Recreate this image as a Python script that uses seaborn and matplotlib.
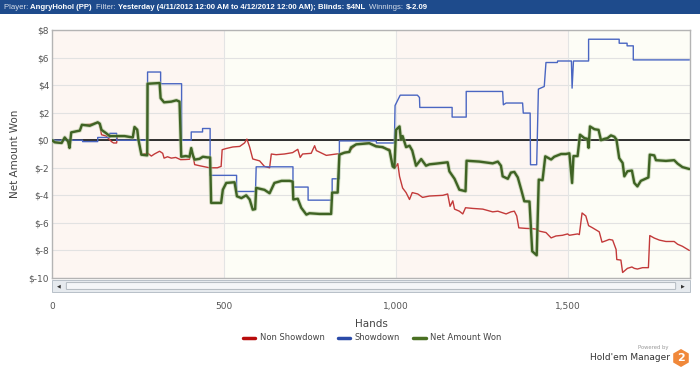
import numpy as np
import pandas as pd
import matplotlib
matplotlib.use("Agg")
from matplotlib import pyplot as plt
from matplotlib.patches import Rectangle, FancyBboxPatch, RegularPolygon
from matplotlib.lines import Line2D
import seaborn as sns

# data: hands played vs cumulative winnings ($)
showdown_hands = [0, 89, 89, 133, 133, 168, 168, 188, 188, 278, 278, 316, 316, 377, 377, 405, 405,
                  438, 438, 460, 460, 537, 537, 592, 594, 701, 701, 745, 745, 815, 815, 836, 836,
                  943, 944, 996, 998, 1013, 1063, 1069, 1070, 1164, 1164, 1205, 1205, 1311, 1313,
                  1321, 1369, 1371, 1391, 1392, 1410, 1415, 1432, 1437, 1470, 1471, 1511, 1513,
                  1517, 1561, 1561, 1650, 1650, 1673, 1673, 1691, 1691, 1854]
showdown_won = [0, 0, -0.1, -0.1, 0.2, 0.2, 0.5, 0.5, 0, 0, 4.95, 4.95, 4.1, 4.1, 0, 0, 0.6,
                0.6, 0.85, 0.85, -2.55, -2.55, -3.72, -3.72, -1.93, -1.93, -3.4, -3.4, -4.35, -4.35,
                -2.8, -2.8, -0.05, -0.05, -0.2, -0.2, 2.52, 3.27, 3.27, 3.1, 2.38, 2.38, 1.68, 1.68,
                3.54, 3.54, 2.57, 2.7, 2.7, 1.97, 1.97, -1.78, -1.78, 3.71, 3.9, 5.64, 5.64, 5.75,
                5.75, 3.78, 5.75, 5.75, 7.33, 7.33, 7.04, 7.04, 6.85, 6.85, 5.83, 5.83]

nonsd_hands = [0, 8, 28, 37, 47, 51, 56, 81, 87, 110, 133, 139, 144, 158, 173, 179, 188, 190,
               211, 235, 240, 248, 251, 260, 278, 289, 298, 313, 322, 326, 336, 347, 360, 374,
               389, 400, 405, 410, 415, 429, 458, 481, 492, 495, 507, 526, 546, 560, 567, 575,
               584, 604, 618, 633, 638, 652, 676, 700, 715, 722, 729, 754, 764, 769, 798, 827,
               846, 865, 885, 923, 943, 962, 982, 991, 998, 1006, 1011, 1020, 1030, 1040, 1048,
               1064, 1078, 1098, 1137, 1151, 1158, 1166, 1171, 1185, 1195, 1203, 1224, 1253,
               1282, 1297, 1321, 1335, 1345, 1352, 1358, 1379, 1398, 1408, 1418, 1437, 1452,
               1466, 1485, 1500, 1505, 1529, 1534, 1542, 1553, 1561, 1572, 1582, 1592, 1600,
               1611, 1621, 1631, 1641, 1643, 1655, 1660, 1674, 1687, 1694, 1703, 1718, 1735,
               1739, 1752, 1767, 1786, 1810, 1820, 1834, 1854]
nonsd_won = [0, -0.15, -0.2, 0.2, -0.1, -0.56, 0.57, 0.7, 1.12, 1.15, 1.3, 1.1, 0.4, 0.3, -0.1,
             -0.2, -0.2, 0.3, 0.3, 0.2, 0.96, 0.76, 0.1, -1.05, -0.93, -1.15, -1.0, -0.8, -0.95,
             -1.3, -1.2, -1.3, -1.25, -1.41, -1.4, -1.38, -0.64, -1.1, -1.77, -1.85, -2.0, -2.0,
             -1.9, -0.69, -0.6, -0.49, -0.45, -0.2, 0.08, -0.5, -1.36, -1.5, -1.9, -2.0, -1.0,
             -1.05, -1.0, -0.9, -0.66, -1.25, -1.0, -0.95, -0.4, -0.75, -1.1, -1.0, -0.95, -0.8,
             -0.3, -0.2, -0.4, -0.55, -0.65, -1.78, -2.0, -1.7, -2.62, -3.47, -3.8, -4.3, -3.8,
             -3.9, -4.15, -4.05, -4.0, -3.9, -4.8, -4.4, -5.0, -5.15, -5.35, -4.9, -4.95, -5.0,
             -5.2, -5.15, -5.35, -5.2, -5.15, -5.5, -6.36, -6.4, -6.42, -6.45, -6.6, -6.7, -7.09,
             -6.95, -6.9, -6.8, -6.9, -6.8, -6.85, -5.28, -5.5, -6.2, -6.35, -6.5, -6.65, -7.4,
             -7.3, -7.2, -7.25, -7.93, -8.66, -8.7, -9.6, -9.3, -9.2, -9.3, -9.35, -9.25, -9.25,
             -6.92, -7.1, -7.25, -7.35, -7.35, -7.55, -7.7, -8.0]

net_hands = [0, 8, 28, 37, 47, 51, 56, 81, 87, 110, 133, 139, 144, 158, 168, 188, 211, 235, 240,
             248, 251, 260, 277, 278, 313, 316, 326, 347, 362, 371, 376, 389, 400, 405, 410, 415,
             429, 439, 453, 460, 463, 492, 497, 507, 531, 538, 551, 565, 575, 584, 591, 594, 618,
             633, 647, 668, 691, 700, 702, 715, 725, 740, 749, 778, 812, 815, 831, 836, 851, 865,
             870, 885, 923, 943, 962, 982, 991, 996, 1001, 1011, 1015, 1020, 1030, 1040, 1048,
             1059, 1074, 1088, 1098, 1117, 1151, 1156, 1171, 1185, 1203, 1206, 1243, 1282, 1297,
             1306, 1311, 1326, 1335, 1345, 1355, 1365, 1374, 1389, 1397, 1410, 1416, 1427, 1435,
             1452, 1461, 1481, 1495, 1505, 1513, 1517, 1529, 1536, 1549, 1558, 1561, 1565, 1578,
             1590, 1597, 1607, 1616, 1626, 1636, 1642, 1650, 1660, 1665, 1674, 1687, 1694, 1703,
             1713, 1735, 1739, 1752, 1757, 1786, 1810, 1820, 1834, 1854]
net_won = [0, -0.15, -0.2, 0.2, -0.1, -0.56, 0.57, 0.7, 1.12, 1.05, 1.3, 1.2, 0.75, 0.5, 0.3,
           0.3, 0.3, 0.2, 0.96, 0.76, 0.1, -1.05, -1.1, 4.1, 4.15, 3.05, 2.75, 2.8, 2.9, 2.8,
           -1.2, -1.15, -1.2, -0.57, -1.1, -1.41, -1.35, -1.2, -1.25, -1.25, -4.55, -4.55, -3.59,
           -3.1, -3.05, -4.07, -4.2, -4.0, -4.3, -5.04, -5.0, -3.46, -3.6, -3.85, -3.1, -2.95,
           -2.95, -3.0, -4.3, -4.25, -4.9, -5.4, -5.3, -5.35, -5.35, -3.8, -3.8, -1.05, -0.9,
           -0.85, -0.52, -0.3, -0.22, -0.45, -0.5, -0.75, -1.9, -2.0, 0.76, 1.0, 0.05, 0.3, -0.5,
           -0.4, -0.75, -1.85, -1.37, -1.85, -1.75, -1.7, -1.6, -2.26, -2.8, -3.59, -3.7, -1.49,
           -1.55, -1.68, -1.55, -1.85, -2.62, -2.8, -2.35, -2.3, -2.7, -3.59, -4.43, -4.45, -8.06,
           -8.35, -2.86, -2.9, -1.17, -1.4, -1.2, -1.0, -1.0, -0.95, -3.1, -1.15, -1.15, 0.4,
           0.15, 0.1, -0.55, 1.0, 0.8, 0.75, 0.0, 0.1, 0.15, 0.35, 0.25, 0.05, -1.3, -1.65,
           -2.62, -2.25, -2.2, -3.1, -3.35, -2.95, -2.7, -1.05, -1.1, -1.45, -1.5, -1.45, -1.7,
           -1.95, -2.09]

y_ticks = [8, 6, 4, 2, 0, -2, -4, -6, -8, -10]
y_labels = ["$" + str(v) for v in y_ticks]
x_ticks = [0, 500, 1000, 1500]
x_labels = ["0", "500", "1,000", "1,500"]

sns.set_style("white")
plt.rcParams['font.family'] = ['DejaVu Sans']

fig = plt.figure(figsize=(7.0, 3.72), dpi=100)
W, H = 700.0, 372.0
ax = fig.add_axes([52 / W, 1 - 278 / H, 638 / W, 248 / H])

# alternating background bands
band_cols = ["#fdf6f2", "#fdfdf6", "#fdf6f2", "#fdfdf6"]
for i, c in enumerate(band_cols):
    ax.axvspan(i * 500, (i + 1) * 500, color=c, zorder=0, lw=0)
for t in y_ticks:
    ax.axhline(t, color="#e2e2e2", lw=0.8, zorder=1)
for t in x_ticks[1:]:
    ax.axvline(t, color="#e4e4e4", lw=0.8, zorder=1)
ax.axhline(0, color="#202020", lw=1.3, zorder=2)

red = "#c33a3a"
blue = "#4a66c2"
green = "#3f6324"

sd = pd.DataFrame({"hands": showdown_hands, "won": showdown_won})
ns = pd.DataFrame({"hands": nonsd_hands, "won": nonsd_won})
nt = pd.DataFrame({"hands": net_hands, "won": net_won})

kw = dict(x="hands", y="won", ax=ax, sort=False, estimator=None, errorbar=None)
sns.lineplot(data=ns, color=red, lw=1.0, zorder=3, **kw)
sns.lineplot(data=sd, color=blue, lw=1.0, zorder=4, **kw)
sns.lineplot(data=nt, color="#a8c090", lw=3.0, alpha=0.5, zorder=5, **kw)
sns.lineplot(data=nt, color=green, lw=1.7, zorder=6, **kw)

ax.set_xlim(0, 1856)
ax.set_ylim(-10, 8)
ax.set_yticks(y_ticks)
ax.set_yticklabels(y_labels)
ax.set_xticks(x_ticks)
ax.set_xticklabels(x_labels)
ax.tick_params(axis="both", labelsize=6.5, labelcolor="#555555", colors="#999999", length=0)
ax.tick_params(axis="x", pad=17)
ax.tick_params(axis="y", pad=2)
ax.set_xlabel("Hands", fontsize=7.5, color="#444444", labelpad=6)
ax.set_ylabel("Net Amount Won", fontsize=7.5, color="#444444", labelpad=6)
for s in ax.spines.values():
    s.set_color("#b4b4b4")
    s.set_linewidth(1.0)

# scroll bar under the plot
fig.patches.append(Rectangle((52 / W, 1 - 292 / H), 638 / W, 12 / H, transform=fig.transFigure,
                             facecolor="#e6eaee", edgecolor="#b8c0c8", lw=0.7))
fig.patches.append(FancyBboxPatch((67 / W, 1 - 289 / H), 608 / W, 6 / H, transform=fig.transFigure,
                                  boxstyle="round,pad=0.001", facecolor="#f4f6f8",
                                  edgecolor="#a8b0b8", lw=0.6))
fig.text(59 / W, 1 - 286 / H, "◀", fontsize=3.5, color="#333333", ha="center", va="center")
fig.text(683 / W, 1 - 286 / H, "▶", fontsize=3.5, color="#333333", ha="center", va="center")

# legend
handles = [Line2D([], [], color="#b80c0c", lw=2.5),
           Line2D([], [], color="#2a4aa8", lw=2.5),
           Line2D([], [], color="#4a7022", lw=2.5)]
fig.legend(handles, ["Non Showdown", "Showdown", "Net Amount Won"], loc="center",
           bbox_to_anchor=(372 / W, 1 - 338 / H), ncol=3, frameon=False, fontsize=6,
           handlelength=1.5, handletextpad=0.5, columnspacing=1.6, labelcolor="#444444")

# header bar
fig.patches.append(Rectangle((0, 1 - 14 / H), 1, 14 / H, transform=fig.transFigure,
                             facecolor="#1e4b8c", edgecolor="none"))
pieces = [("Player: ", "normal", "#d6deea"), ("AngryHohol (PP)  ", "bold", "white"),
          ("Filter: ", "normal", "#d6deea"),
          ("Yesterday (4/11/2012 12:00 AM to 4/12/2012 12:00 AM); ", "bold", "white"),
          ("Blinds: $4NL  ", "bold", "white"), ("Winnings: ", "normal", "#d6deea"),
          ("$-2.09", "bold", "white")]
renderer = fig.canvas.get_renderer()
xpos = 4.0
for txt, wgt, col in pieces:
    t = fig.text(xpos / W, 1 - 7.5 / H, txt, fontsize=5.6, fontweight=wgt, color=col,
                 va="center", ha="left", family="Liberation Sans")
    xpos += t.get_window_extent(renderer).width

# powered-by logo
fig.text(668 / W, 1 - 348 / H, "Powered by", fontsize=3.8, color="#999999", ha="right", va="center")
fig.text(670 / W, 1 - 358 / H, "Hold'em Manager", fontsize=6.5, color="#333333", ha="right", va="center")
lax = fig.add_axes([672 / W, 1 - 368 / H, 18 / W, 20 / H])
lax.set_xlim(-1, 1)
lax.set_ylim(-1.1, 1.1)
lax.set_aspect("equal")
lax.axis("off")
lax.add_patch(RegularPolygon((0, 0), numVertices=6, radius=1.0, orientation=0,
                             facecolor="#f0883a", edgecolor="none"))
lax.text(0, -0.05, "2", fontsize=8, fontweight="bold", color="white", ha="center", va="center")

fig.savefig("out.png", dpi=100)
